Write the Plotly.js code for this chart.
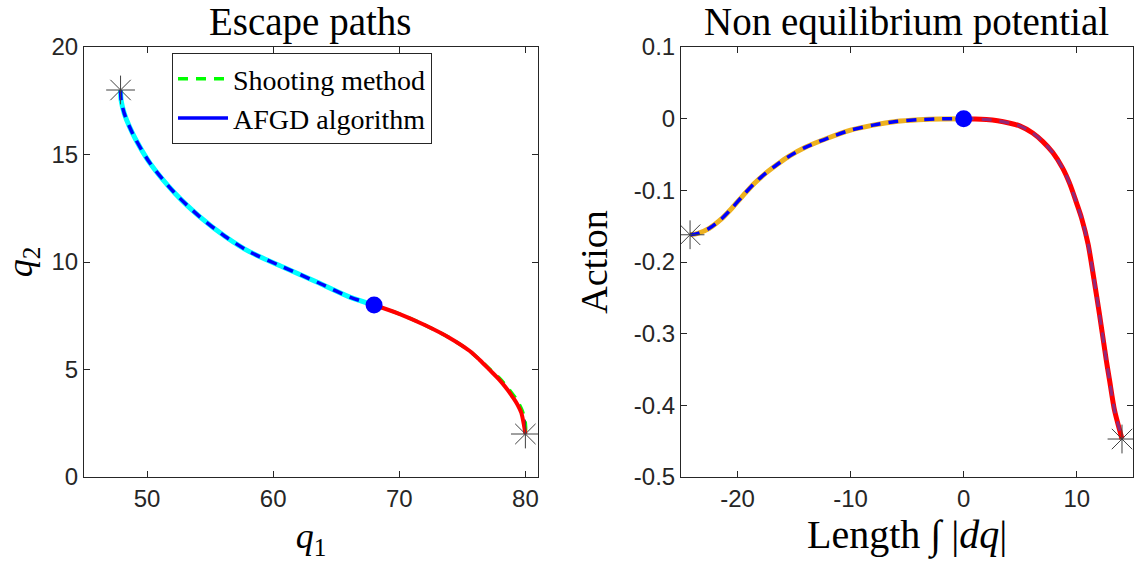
<!DOCTYPE html>
<html>
<head>
<meta charset="utf-8">
<script src="https://cdn.plot.ly/plotly-3.0.1.min.js"></script>
<style>html,body{margin:0;padding:0;background:#fff;}#chart{width:1135px;height:567px;}</style>
</head>
<body>
<div id="chart"></div>
<script>
// ---- Data: Escape paths (left panel) ----
const upperQ1 = [47.9, 47.95, 48.2, 48.6, 49.1, 50.23, 52.21, 54.19, 56.17, 58.15, 60.77, 63.46, 66.08, 68.0];
const upperQ2 = [18.0, 17.5, 16.9, 16.3, 15.7, 14.6, 13.2, 12.1, 11.2, 10.47, 9.77, 9.07, 8.37, 8.0];
const lowerQ1 = [68.0, 70.04, 72.02, 74.0, 75.59, 76.38, 77.17, 77.96, 78.6, 78.99, 79.39, 79.68, 79.87, 80.0];
const lowerQ2 = [8.0, 7.58, 7.07, 6.47, 5.86, 5.44, 4.98, 4.51, 4.05, 3.72, 3.35, 2.98, 2.47, 2.0];
const shootLowerQ1 = [68.0, 70.04, 72.02, 74.0, 75.59, 76.4, 77.25, 78.1, 78.8, 79.3, 79.7, 79.95, 80.02, 80.0];
const shootLowerQ2 = [8.0, 7.58, 7.07, 6.47, 5.86, 5.44, 4.98, 4.5, 4.0, 3.6, 3.15, 2.7, 2.3, 2.0];
const saddleQ = [68.0, 8.0];
const endsQ1 = [47.9, 80.0];
const endsQ2 = [18.0, 2.0];

// ---- Data: Non equilibrium potential (right panel) ----
const potLeftS = [-24.2, -23.5, -22.5, -21.5, -20.5, -19.5, -18.5, -17.5, -16.5, -15.5, -14, -12, -10, -8, -6, -4, -2, 0];
const potLeftA = [-0.162, -0.160, -0.153, -0.141, -0.125, -0.107, -0.090, -0.076, -0.064, -0.053, -0.040, -0.027, -0.016, -0.009, -0.004, -0.0015, -0.0003, 0];
const potRightS = [0, 1, 2, 3, 4, 4.95, 6.1, 7.0, 7.86, 8.75, 9.36, 9.98, 10.42, 11.0, 11.5, 12.0, 12.61, 12.9, 13.34, 13.78, 14.0];
const potRightA = [0, -0.0003, -0.0012, -0.003, -0.006, -0.010, -0.020, -0.032, -0.047, -0.069, -0.090, -0.1175, -0.1384, -0.175, -0.222, -0.272, -0.337, -0.365, -0.407, -0.434, -0.447];
const potSaddle = [0, 0];
const potEndsS = [-24.2, 14.0];
const potEndsA = [-0.162, -0.447];

// ---- Tick labels ----
const xTicksL = [50, 60, 70, 80];
const yTicksL = [0, 5, 10, 15, 20];
const xTicksR = [-20, -10, 0, 10];
const xTickTextR = ['-20', '-10', '0', '10'];
const yTicksR = [-0.5, -0.4, -0.3, -0.2, -0.1, 0, 0.1];
const yTickTextR = ['-0.5', '-0.4', '-0.3', '-0.2', '-0.1', '0', '0.1'];

const serif = 'Liberation Serif, Times New Roman, serif';
const sans = 'Liberation Sans, Arial, sans-serif';
const axCol = '#262626';
const starMarker = {symbol: 'asterisk-open', size: 24, color: '#404040', line: {color: '#404040', width: 1}};
const sp = {shape: 'spline', smoothing: 0.8};

const traces = [
  // left panel
  {x: upperQ1, y: upperQ2, xaxis: 'x', yaxis: 'y', mode: 'lines', line: Object.assign({color: '#00FFFF', width: 5}, sp), showlegend: false},
  {x: upperQ1, y: upperQ2, xaxis: 'x', yaxis: 'y', mode: 'lines', line: Object.assign({color: '#0000FF', width: 3.5, dash: '10px,8px'}, sp), showlegend: false},
  {x: shootLowerQ1, y: shootLowerQ2, xaxis: 'x', yaxis: 'y', mode: 'lines', name: 'Shooting method', line: Object.assign({color: '#00FF00', width: 3.5, dash: '10px,8px'}, sp), showlegend: true},
  {x: lowerQ1, y: lowerQ2, xaxis: 'x', yaxis: 'y', mode: 'lines', line: Object.assign({color: '#FF0000', width: 4}, sp), showlegend: false},
  {x: [null], y: [null], xaxis: 'x', yaxis: 'y', mode: 'lines', name: 'AFGD algorithm', line: {color: '#0000FF', width: 3.5}, showlegend: true},
  {x: endsQ1, y: endsQ2, xaxis: 'x', yaxis: 'y', mode: 'markers', marker: starMarker, showlegend: false},
  {x: [saddleQ[0]], y: [saddleQ[1]], xaxis: 'x', yaxis: 'y', mode: 'markers', marker: {color: '#0000FF', size: 17}, showlegend: false},
  // right panel
  {x: potLeftS, y: potLeftA, xaxis: 'x2', yaxis: 'y2', mode: 'lines', line: Object.assign({color: '#EDB120', width: 5}, sp), showlegend: false},
  {x: potLeftS, y: potLeftA, xaxis: 'x2', yaxis: 'y2', mode: 'lines', line: Object.assign({color: '#0000FF', width: 3.5, dash: '10px,8px'}, sp), showlegend: false},
  {x: potRightS, y: potRightA, xaxis: 'x2', yaxis: 'y2', mode: 'lines', line: Object.assign({color: '#FF0000', width: 5}, sp), showlegend: false},
  {x: potRightS, y: potRightA, xaxis: 'x2', yaxis: 'y2', mode: 'lines', line: Object.assign({color: '#7E2F8E', width: 3, dash: '10px,8px'}, sp), opacity: 0.85, showlegend: false},
  {x: potEndsS, y: potEndsA, xaxis: 'x2', yaxis: 'y2', mode: 'markers', marker: starMarker, showlegend: false},
  {x: [potSaddle[0]], y: [potSaddle[1]], xaxis: 'x2', yaxis: 'y2', mode: 'markers', marker: {color: '#0000FF', size: 17}, showlegend: false}
];

function axis(extra) {
  return Object.assign({
    showline: true, linecolor: axCol, linewidth: 1, mirror: 'ticks',
    ticks: 'inside', ticklen: 6, tickcolor: axCol, tickwidth: 1,
    showgrid: false, zeroline: false,
    tickfont: {family: sans, size: 24, color: axCol}
  }, extra);
}

const layout = {
  width: 1135, height: 567,
  margin: {l: 0, r: 0, t: 47, b: 90},
  paper_bgcolor: '#fff', plot_bgcolor: '#fff',
  showlegend: true,
  legend: {
    x: 172 / 1135, y: (477 - 53) / 430, xanchor: 'left', yanchor: 'top',
    bgcolor: '#fff', bordercolor: axCol, borderwidth: 1,
    font: {family: serif, size: 28, color: '#000'},
    itemwidth: 50, tracegroupgap: 0
  },
  xaxis: axis({domain: [0.074, 0.474], range: [45, 81], tickvals: xTicksL, anchor: 'y',
    title: {text: '<i>q</i><sub>1</sub>', font: {family: serif, size: 36, color: '#000'}, standoff: 12}}),
  yaxis: axis({domain: [0, 1], range: [0, 20], tickvals: yTicksL, anchor: 'x',
    title: {text: '<i>q</i><sub>2</sub>', font: {family: serif, size: 36, color: '#000'}, standoff: 18}}),
  xaxis2: axis({domain: [0.6, 0.9985], range: [-25, 15], tickvals: xTicksR, ticktext: xTickTextR, anchor: 'y2',
    title: {text: 'Length ∫ |<i>dq</i>|', font: {family: serif, size: 40, color: '#000'}, standoff: 8}}),
  yaxis2: axis({domain: [0, 1], range: [-0.5, 0.1], tickvals: yTicksR, ticktext: yTickTextR, anchor: 'x2',
    title: {text: 'Action', font: {family: serif, size: 38, color: '#000'}, standoff: 14}}),
  annotations: [
    {text: 'Escape paths', xref: 'paper', yref: 'paper', x: 0.274, y: (477 - 22) / 430, xanchor: 'center', yanchor: 'middle', showarrow: false, font: {family: serif, size: 39, color: '#000'}},
    {text: 'Non equilibrium potential', xref: 'paper', yref: 'paper', x: 0.799, y: (477 - 22) / 430, xanchor: 'center', yanchor: 'middle', showarrow: false, font: {family: serif, size: 39, color: '#000'}}
  ]
};

Plotly.newPlot('chart', traces, layout, {displayModeBar: false, staticPlot: true});
</script>
</body>
</html>
